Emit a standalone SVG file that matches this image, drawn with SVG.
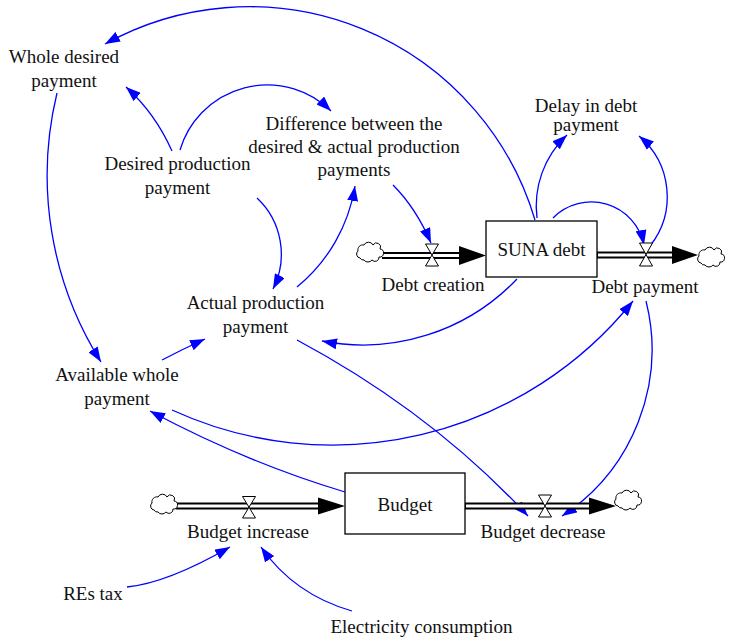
<svg xmlns="http://www.w3.org/2000/svg" xmlns:xlink="http://www.w3.org/1999/xlink" width="731" height="644" viewBox="0 0 731 644" font-family="'Liberation Serif', 'DejaVu Serif', serif">
<style>
  text { font-family: 'Liberation Serif', 'DejaVu Serif', serif; font-size: 19px; fill: #111; text-anchor: middle; }
  .link { fill: none; stroke: #0000ff; stroke-width: 1.3; marker-end: url(#ah); }
  .stock { fill: #fff; stroke: #000; stroke-width: 1.3; }
  .pipeo { stroke: #000; stroke-width: 7; }
  .pipei { stroke: #fff; stroke-width: 3; }
  .valve { fill: #fff; stroke: #000; stroke-width: 1; }
  .fhead { fill: #000; }
  .cloud { fill: #fff; stroke: #000; stroke-width: 1; }
</style>
<defs>
  <marker id="ah" viewBox="0 0 15 11" refX="15" refY="5.5" markerWidth="15" markerHeight="11" markerUnits="userSpaceOnUse" orient="auto">
    <path d="M0,0 L15,5.5 L0,11 z" fill="#0000ff"/>
  </marker>
  <path id="cl" class="cloud" d="M -10 6 a 4 4 0 0 1 -2 -7 a 5 5 0 0 1 6 -6 a 5 5 0 0 1 9 0 a 4 4 0 0 1 7 4 a 4 4 0 0 1 -1 8 a 4 4 0 0 1 -7 3 a 5 5 0 0 1 -8 0 a 4 4 0 0 1 -4 -2 z"/>
</defs>
<rect width="731" height="644" fill="#fff"/>

<g id="connectors">
  <path class="link" d="M 535 220 A 298 298 0 0 0 105 44"/>
  <path class="link" d="M 172 151 Q 155 113 126 87"/>
  <path class="link" d="M 180 150 A 91 91 0 0 1 331 111"/>
  <path class="link" d="M 257 198 A 77 77 0 0 1 273 289"/>
  <path class="link" d="M 297 287 A 163.7 163.7 0 0 0 355 186"/>
  <path class="link" d="M 393 185 Q 416 208 431 243"/>
  <path class="link" d="M 537 218 A 97.2 97.2 0 0 1 567 135"/>
  <path class="link" d="M 650 246 A 79.3 79.3 0 0 0 639 136"/>
  <path class="link" d="M 553 218 A 53.8 53.8 0 0 1 644 245"/>
  <path class="link" d="M 517 279 A 212.8 212.8 0 0 1 322 341"/>
  <path class="link" d="M 57 93 A 350.2 350.2 0 0 0 101 362"/>
  <path class="link" d="M 162 360 Q 183 349 205 339"/>
  <path class="link" d="M 297 340 Q 431.5 412 528 516"/>
  <path class="link" d="M 646 301 A 199.2 199.2 0 0 1 562 516"/>
  <path class="link" d="M 172 410 A 385.3 385.3 0 0 0 633 301"/>
  <path class="link" d="M 345 492 Q 246.5 462.5 150 411"/>
  <path class="link" d="M 127 587 Q 167.5 583 230 547"/>
  <path class="link" d="M 352 611 Q 294 594.4 261 547"/>
</g>

<g id="whole-desired-payment">
  <text x="64" y="63">Whole desired</text>
  <text x="64" y="87">payment</text>
</g>
<g id="desired-production-payment">
  <text x="177.5" y="170">Desired production</text>
  <text x="177.5" y="194">payment</text>
</g>
<g id="difference">
  <text x="354" y="130">Difference between the</text>
  <text x="354" y="153">desired &amp; actual production</text>
  <text x="354" y="176">payments</text>
</g>
<g id="delay-in-debt-payment">
  <text x="586" y="112">Delay in debt</text>
  <text x="586" y="131">payment</text>
</g>
<g id="actual-production-payment">
  <text x="255.5" y="309">Actual production</text>
  <text x="255.5" y="333">payment</text>
</g>
<g id="available-whole-payment">
  <text x="117" y="381">Available whole</text>
  <text x="117" y="405">payment</text>
</g>
<g id="res-tax">
  <text x="93" y="600">REs tax</text>
</g>
<g id="electricity-consumption">
  <text x="421.5" y="633">Electricity consumption</text>
</g>

<g id="suna-debt">
  <rect class="stock" x="486" y="221" width="111" height="56"/>
  <text x="541.5" y="256">SUNA debt</text>
</g>
<g id="budget">
  <rect class="stock" x="345" y="473" width="120" height="61"/>
  <text x="405" y="511">Budget</text>
</g>

<g id="debt-creation">
  <line class="pipeo" x1="382" y1="255.5" x2="460" y2="255.5"/>
  <line class="pipei" x1="381" y1="255.5" x2="461" y2="255.5"/>
  <polygon class="fhead" points="459,246 486,255.5 459,265"/>
  <use xlink:href="#cl" href="#cl" x="370" y="252"/>
  <path class="valve" d="M 425.5 244 L 438.5 244 L 425.5 266 L 438.5 266 Z"/>
  <text x="433" y="291">Debt creation</text>
</g>
<g id="debt-payment">
  <line class="pipeo" x1="597" y1="255" x2="673" y2="255"/>
  <line class="pipei" x1="598" y1="255" x2="674" y2="255"/>
  <polygon class="fhead" points="672,246 698,255 672,264"/>
  <use xlink:href="#cl" href="#cl" x="711" y="257"/>
  <path class="valve" d="M 639.5 243 L 652.5 243 L 639.5 266 L 652.5 266 Z"/>
  <text x="645" y="293">Debt payment</text>
</g>
<g id="budget-increase">
  <line class="pipeo" x1="176" y1="506" x2="319" y2="506"/>
  <line class="pipei" x1="175" y1="506" x2="320" y2="506"/>
  <polygon class="fhead" points="318,497.5 345,506 318,514.5"/>
  <use xlink:href="#cl" href="#cl" x="164" y="504"/>
  <path class="valve" d="M 242.5 496.5 L 255.5 496.5 L 242.5 518 L 255.5 518 Z"/>
  <text x="248" y="538">Budget increase</text>
</g>
<g id="budget-decrease">
  <line class="pipeo" x1="465" y1="506" x2="590" y2="506"/>
  <line class="pipei" x1="466" y1="506" x2="591" y2="506"/>
  <polygon class="fhead" points="589,497.5 616,506 589,514.5"/>
  <use xlink:href="#cl" href="#cl" x="628" y="500"/>
  <path class="valve" d="M 538.5 495 L 551.5 495 L 538.5 517 L 551.5 517 Z"/>
  <text x="543" y="538">Budget decrease</text>
</g>
</svg>
